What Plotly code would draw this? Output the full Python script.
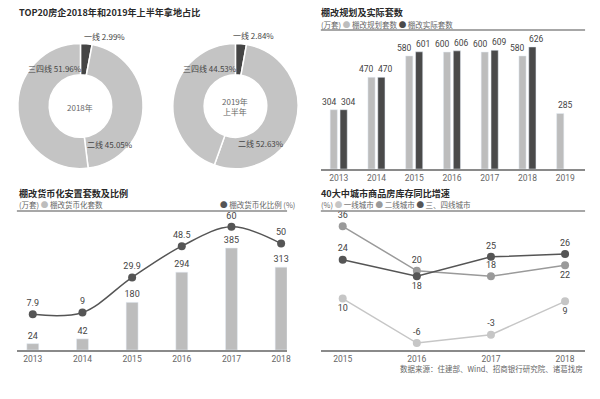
import plotly.graph_objects as go

W, H = 600, 399
def px(x): return x / W
def py(y): return 1 - y / H

CJK = "Noto Sans CJK SC"
NUM = "Roboto"

# ---- data ----
pie_labels = ["一线", "二线", "三四线"]
pie_2018 = [2.99, 45.05, 51.96]
pie_2019h1 = [2.84, 52.63, 44.53]

years_plan = [2013, 2014, 2015, 2016, 2017, 2018, 2019]
plan_units = [304, 470, 580, 600, 600, 580, 285]
years_actual = [2013, 2014, 2015, 2016, 2017, 2018]
actual_units = [304, 470, 601, 606, 609, 626]

years_mon = [2013, 2014, 2015, 2016, 2017, 2018]
mon_units = [24, 42, 180, 294, 385, 313]
mon_ratio = [7.9, 9, 29.9, 48.5, 60, 50]

years_inv = [2015, 2016, 2017, 2018]
tier1 = [10, -6, -3, 9]
tier2 = [36, 20, 18, 22]
tier34 = [24, 18, 25, 26]

C_DARK = "#4a4a4a"
C_LIGHT = "#bdbdbd"
C_MID = "#9a9a9a"
C_T1 = "#c6c6c6"
C_TEXT = "#444444"

fig = go.Figure()

# ---- donuts ----
for vals, dom in [(pie_2018, [18, 144]), (pie_2019h1, [174, 300])]:
    fig.add_trace(go.Pie(
        labels=pie_labels, values=vals, hole=0.5, sort=False,
        direction="clockwise", rotation=0, textinfo="none",
        marker=dict(colors=["#454545", "#c4c4c4", "#c4c4c4"],
                    line=dict(color="white", width=1.5)),
        domain=dict(x=[px(dom[0]), px(dom[1])], y=[py(169), py(43)]),
        showlegend=False, hoverinfo="label+percent"))

# ---- top-right bars ----
fig.add_trace(go.Bar(
    x=years_plan, y=plan_units, width=0.19, offset=-0.227,
    marker=dict(color=C_LIGHT), xaxis="x", yaxis="y", showlegend=False))
fig.add_trace(go.Bar(
    x=years_actual, y=actual_units, width=0.19, offset=0.035,
    marker=dict(color=C_DARK), xaxis="x", yaxis="y", showlegend=False))

# ---- bottom-left bars + line ----
fig.add_trace(go.Bar(
    x=years_mon, y=mon_units, width=0.24,
    marker=dict(color=C_LIGHT), text=[str(v) for v in mon_units],
    textposition="outside", cliponaxis=False, constraintext="none",
    textfont=dict(family=NUM, size=9, color=C_TEXT),
    xaxis="x2", yaxis="y2", showlegend=False))
fig.add_trace(go.Scatter(
    x=years_mon, y=mon_ratio, mode="lines+markers+text",
    line=dict(color="#555555", width=1.5, shape="spline", smoothing=1.0),
    marker=dict(color="#555555", size=8),
    text=[str(v) for v in mon_ratio], textposition="top center",
    textfont=dict(family=NUM, size=9, color=C_TEXT), cliponaxis=False,
    xaxis="x2", yaxis="y3", showlegend=False))

# ---- bottom-right lines ----
for vals, col, pos in [
    (tier1, C_T1, ["bottom center", "top center", "top center", "bottom center"]),
    (tier2, C_MID, ["top center", "top center", "top center", "bottom center"]),
    (tier34, "#555555", ["top center", "bottom center", "top center", "top center"]),
]:
    fig.add_trace(go.Scatter(
        x=years_inv, y=vals, mode="lines+markers+text",
        line=dict(color=col, width=1.5), marker=dict(color=col, size=8),
        text=[str(v) for v in vals], textposition=pos,
        textfont=dict(family=NUM, size=9, color=C_TEXT), cliponaxis=False,
        xaxis="x3", yaxis="y4", showlegend=False))

axis_common = dict(showgrid=False, zeroline=False, ticks="", showline=True,
                   linecolor="#8a8a8a", linewidth=1.5,
                   tickfont=dict(family=NUM, size=8.5, color="#666666"),
                   fixedrange=True)
hidden = dict(visible=False, showgrid=False, zeroline=False, fixedrange=True)

fig.update_layout(
    width=W, height=H, margin=dict(l=0, r=0, t=0, b=0),
    paper_bgcolor="white", plot_bgcolor="white",
    barmode="overlay",
    xaxis=dict(domain=[px(323), px(589)], anchor="y", range=[2012.526, 2019.526],
               tickvals=years_plan, **axis_common),
    yaxis=dict(domain=[py(169), py(30)], anchor="x", range=[0, 713], **hidden),
    xaxis2=dict(domain=[px(17), px(289)], anchor="y2", range=[2012.68, 2018.12],
                tickvals=years_mon, **axis_common),
    yaxis2=dict(domain=[py(350), py(211)], anchor="x2", range=[0, 525], **hidden),
    yaxis3=dict(overlaying="y2", anchor="x2", range=[-13.3, 69.4], **hidden),
    xaxis3=dict(domain=[px(323), px(589)], anchor="y4", range=[2014.705, 2018.27],
                tickvals=years_inv, **axis_common),
    yaxis4=dict(domain=[py(350), py(211)], anchor="x3", range=[-8.5, 41.5], **hidden),
)

shapes = []
for x0, x1, y in [(323, 589, 30), (17, 289, 211), (323, 589, 211)]:
    shapes.append(dict(type="line", xref="paper", yref="paper",
                       x0=px(x0), x1=px(x1), y0=py(y), y1=py(y),
                       line=dict(color="#8a8a8a", width=1.5)))
fig.update_layout(shapes=shapes)

ann = []
def A(text, x, y, size=8, color=C_TEXT, xanchor="left", family=CJK):
    ann.append(dict(text=text, x=px(x), y=py(y), xref="paper", yref="paper",
                    xanchor=xanchor, yanchor="middle", showarrow=False,
                    font=dict(family=family, size=size, color=color)))

# bar value labels for the grouped bars (placed from the data)
for yr, v in zip(years_plan, plan_units):
    paired = yr in years_actual
    ann.append(dict(text=str(v), x=yr, y=v, xref="x", yref="y",
                    xanchor="right" if paired else "center", yanchor="bottom",
                    xshift=0 if paired else 0, yshift=1, showarrow=False,
                    font=dict(family=NUM, size=8.5, color=C_TEXT)))
for yr, v in zip(years_actual, actual_units):
    ann.append(dict(text=str(v), x=yr, y=v, xref="x", yref="y",
                    xanchor="left", yanchor="bottom", xshift=0, yshift=1,
                    showarrow=False, font=dict(family=NUM, size=8.5, color=C_TEXT)))

# titles
TS = 9.1
A("<b>TOP20房企2018年和2019年上半年拿地占比</b>", 17, 12, size=TS, color="#2a2a2a")
A("<b>棚改规划及实际套数</b>", 321, 12, size=TS, color="#2a2a2a")
A("<b>棚改货币化安置套数及比例</b>", 17, 193, size=TS, color="#2a2a2a")
A("<b>40大中城市商品房库存同比增速</b>", 321, 193, size=TS, color="#2a2a2a")

# legends
def dot(c): return f'<span style="color:{c}">●</span>'
A(f"(万套) {dot(C_LIGHT)} 棚改规划套数 {dot(C_DARK)} 棚改实际套数", 321, 24, size=7.5, color="#666666")
A(f"(万套) {dot(C_LIGHT)} 棚改货币化套数", 17, 204, size=7.5, color="#666666")
A(f"{dot('#555555')} 棚改货币化比例 (%)", 299, 204, size=7.5, color="#666666", xanchor="right")
A(f"(%) {dot(C_T1)} 一线城市 {dot(C_MID)} 二线城市 {dot('#555555')} 三、四线城市", 321, 204, size=7.5, color="#666666")

# donut labels
A("一线 2.99%", 83, 36, size=8)
A("三四线 51.96%", 26, 69, size=8)
A("二线 45.05%", 86, 144, size=8)
A("2018年", 81, 107, size=8, color="#666666", xanchor="center")
A("一线 2.84%", 233, 35, size=8)
A("三四线 44.53%", 182, 69, size=8)
A("二线 52.63%", 238, 143, size=8)
ann.append(dict(text="2019年<br>上半年", x=px(237), y=py(106), xref="paper", yref="paper",
                xanchor="center", yanchor="middle", showarrow=False,
                font=dict(family=CJK, size=8, color="#666666")))

# source
A("数据来源：住建部、Wind、招商银行研究院、诸葛找房", 589, 368, size=7.5, color="#666666", xanchor="right")

fig.update_layout(annotations=ann)
fig.write_html("out.html", config={"displayModeBar": False},
               post_script="document.body.style.margin='0';document.body.style.padding='0';")
